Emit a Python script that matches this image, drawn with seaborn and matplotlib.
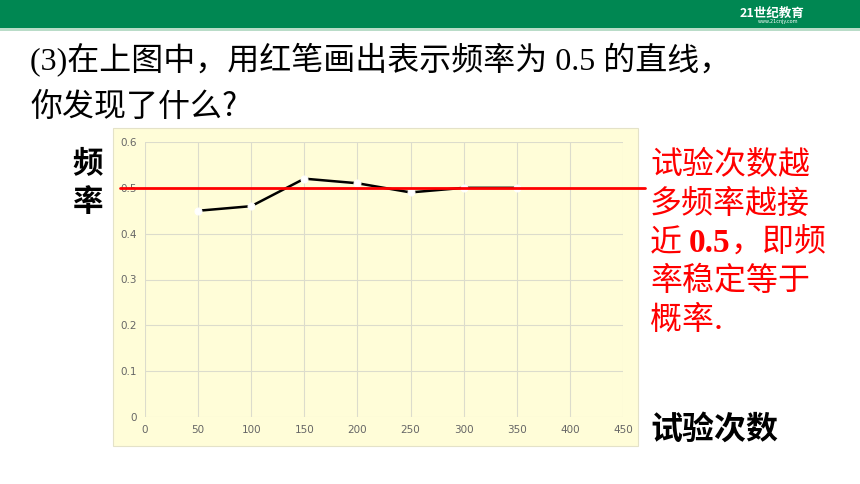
import seaborn as sns
import matplotlib.pyplot as plt
import pandas as pd
from matplotlib.patches import Rectangle

# data
trials = [50, 100, 150, 200, 250, 300, 350]
freq = [0.45, 0.46, 0.52, 0.51, 0.49, 0.50, 0.50]
x_ticks = [0, 50, 100, 150, 200, 250, 300, 350, 400, 450]
y_ticks = [0, 0.1, 0.2, 0.3, 0.4, 0.5, 0.6]
y_tick_labels = ["0", "0.1", "0.2", "0.3", "0.4", "0.5", "0.6"]
ref_freq = 0.5

question = ["(3)在上图中，用红笔画出表示频率为 0.5 的直线，", "你发现了什么?"]
answer = ["试验次数越", "多频率越接", ["近 ", "0.5", "，即频"], "率稳定等于", "概率."]

sns.set_theme(style="white")
plt.rcParams["font.family"] = ["Liberation Serif", "Noto Sans CJK SC", "DejaVu Sans"]
plt.rcParams["text.color"] = "black"
cjk = ["Noto Sans CJK SC", "DejaVu Sans"]

df = pd.DataFrame({"trials": trials, "freq": freq})

fig = plt.figure(figsize=(8.6, 4.84), dpi=100)
fig.patch.set_facecolor("white")

# green banner at top
fig.patches.append(Rectangle((0, 1 - 28 / 484), 1, 28 / 484, transform=fig.transFigure,
                             facecolor="#008752", edgecolor="none", zorder=0))
fig.patches.append(Rectangle((0, 1 - 31 / 484), 1, 3 / 484, transform=fig.transFigure,
                             facecolor="#b9dcc8", edgecolor="none", zorder=0))
fig.text(772 / 860, 1 - 13 / 484, "21世纪教育", color="white", fontsize=9, fontweight="bold",
         style="italic", family=cjk, ha="center", va="center")
fig.text(778 / 860, 1 - 22 / 484, "www.21cnjy.com", color="white", fontsize=3.5,
         family=["DejaVu Sans"], ha="center", va="center")

# pale yellow chart panel
fig.patches.append(Rectangle((113 / 860, 1 - 446 / 484), 525 / 860, 318 / 484,
                             transform=fig.transFigure, facecolor="#fffdd8",
                             edgecolor="#e4e2c8", linewidth=0.8, zorder=0))

ax = fig.add_axes([145 / 860, 1 - 417 / 484, 478 / 860, 275 / 484])
ax.set_zorder(2)
ax.set_facecolor("#fffdd8")
sns.lineplot(data=df, x="trials", y="freq", ax=ax, color="black", linewidth=1.8,
             marker="o", markersize=5, markerfacecolor="white", markeredgecolor="white",
             zorder=3)

ax.set_xlim(0, 450)
ax.set_ylim(0, 0.6)
ax.set_xticks(x_ticks)
ax.set_yticks(y_ticks)
ax.set_yticklabels(y_tick_labels)
ax.grid(True, color="#dcdccc", linewidth=0.8)
for s in ax.spines.values():
    s.set_visible(False)
ax.tick_params(length=0, labelsize=7.5, labelcolor="#666666", pad=6)
for lbl in ax.get_xticklabels() + ax.get_yticklabels():
    lbl.set_family(["DejaVu Sans"])
ax.set_xlabel("")
ax.set_ylabel("")

# the red 0.5 line drawn by hand, runs past the plot area
ax.axhline(ref_freq, xmin=-0.052, xmax=1.046, color="#ff0000", linewidth=2,
           clip_on=False, zorder=4)

# question text
fig.text(30 / 860, 1 - 60 / 484, question[0], fontsize=23, color="black", va="center")
fig.text(30 / 860, 1 - 107 / 484, question[1], fontsize=23, color="black", va="center",
         family=cjk)

# axis captions
fig.text(88 / 860, 1 - 163 / 484, "频", fontsize=22, fontweight="bold", family=cjk,
         color="black", ha="center", va="center")
fig.text(88 / 860, 1 - 202 / 484, "率", fontsize=22, fontweight="bold", family=cjk,
         color="black", ha="center", va="center")
fig.text(650 / 860, 1 - 430 / 484, "试验次数", fontsize=23, fontweight="bold", family=cjk,
         color="black", ha="left", va="center")

# red answer text
ys = [165, 204, 243, 281, 320]
for line, y in zip(answer, ys):
    if isinstance(line, list):
        t1 = fig.text(650 / 860, 1 - y / 484, line[0], fontsize=23, color="#ff0000",
                      va="center", family=cjk)
        t2 = ax.annotate(line[1], xy=(1, 0.5), xycoords=t1, va="center", ha="left",
                         fontsize=24, fontweight="bold", color="#ff0000",
                         family=["Liberation Serif"], annotation_clip=False)
        ax.annotate(line[2], xy=(1, 0.5), xycoords=t2, va="center", ha="left",
                    fontsize=23, color="#ff0000", family=cjk, annotation_clip=False)
    else:
        fig.text(650 / 860, 1 - y / 484, line, fontsize=23, color="#ff0000", va="center",
                 family=cjk)

fig.savefig("out.png", dpi=100)
